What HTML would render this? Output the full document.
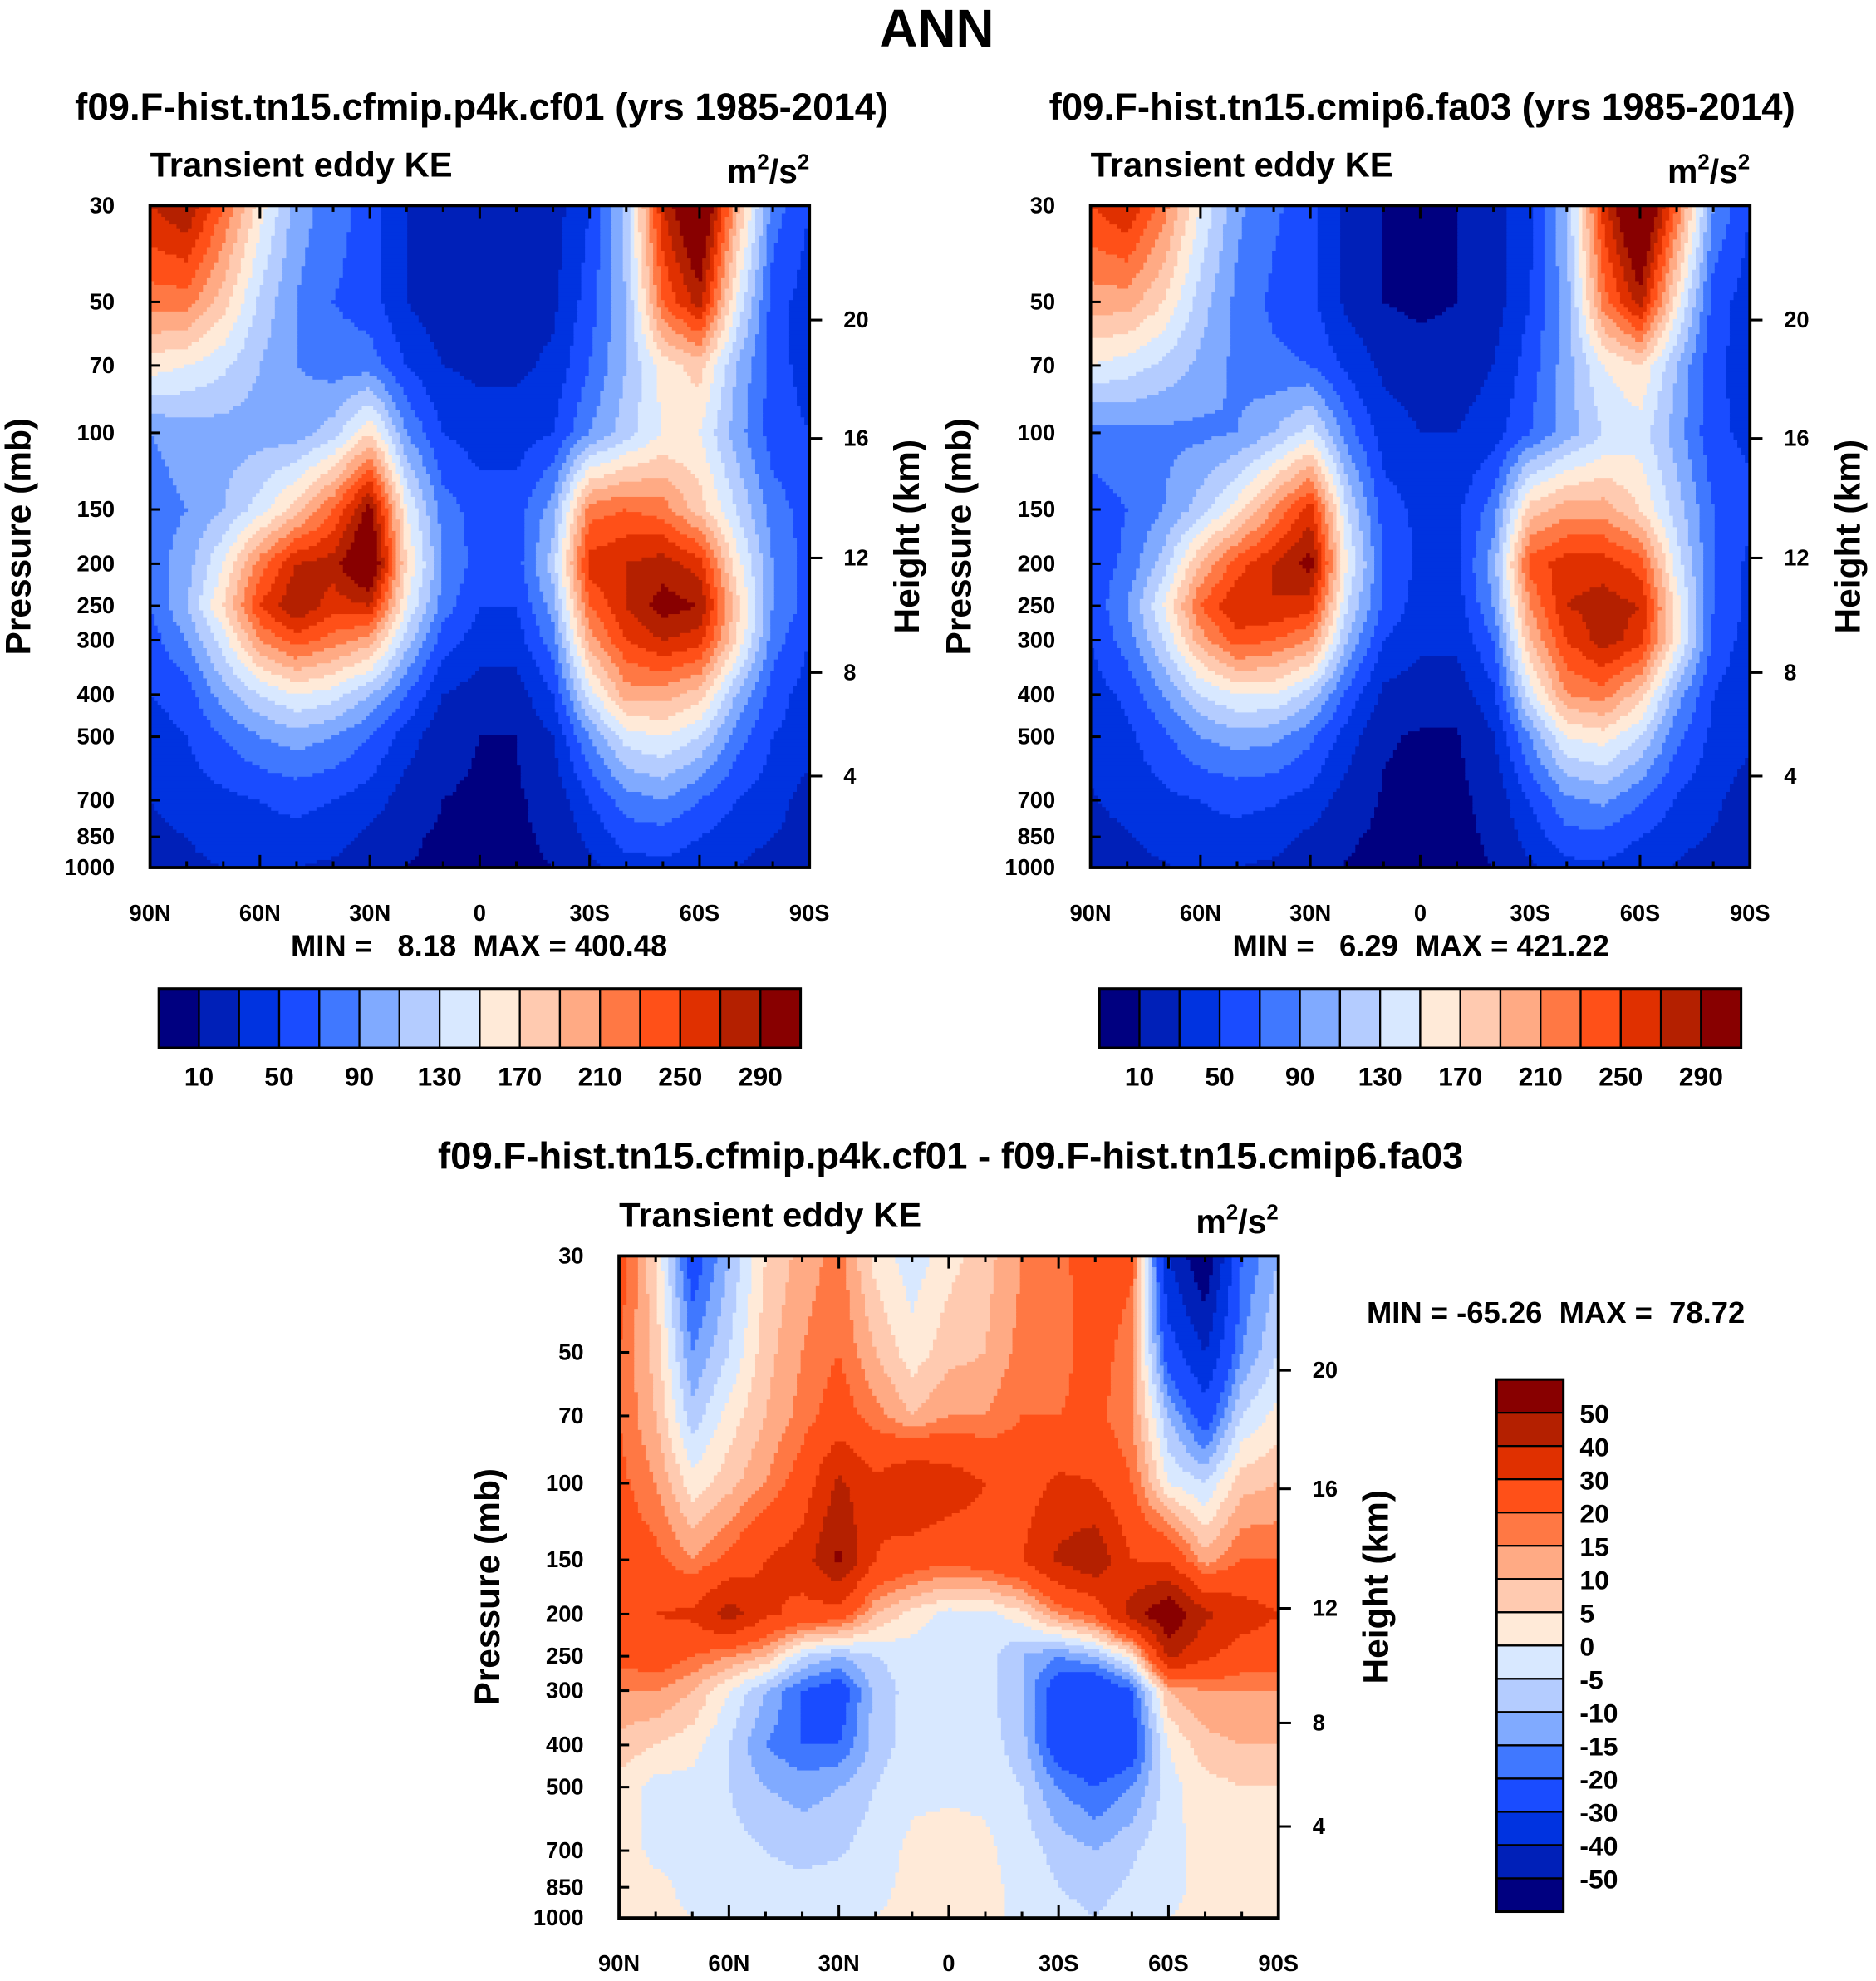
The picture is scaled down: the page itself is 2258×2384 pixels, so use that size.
<!DOCTYPE html>
<html><head><meta charset="utf-8">
<style>
html,body{margin:0;padding:0;background:#fff;}
svg{display:block;}
text{font-family:"Liberation Sans",Arial,sans-serif;font-weight:bold;fill:#000;}
</style></head>
<body>
<svg id="chart" xmlns="http://www.w3.org/2000/svg" width="2258" height="2384" viewBox="0 0 1488 1571">
<rect width="1488" height="1571" fill="#fff"/>
</svg>
<script>
const lats = [90,80,70,60,50,40,30,20,10,0,-10,-20,-30,-40,-50,-60,-70,-80,-90];
const plevs = [30,50,70,100,150,200,250,300,400,500,700,850,1000];
const colors = ["#000080","#0020b8","#0033e0","#1a4cff","#4078ff","#80aaff","#b4ccff","#d8e8ff","#ffead8","#ffcab0","#ffaa84","#ff7844","#ff5018","#e03000","#b42000","#880000"];
const levelsTop = [10,30,50,70,90,110,130,150,170,190,210,230,250,270,290];
const levelsDiff = [-50,-40,-30,-20,-15,-10,-5,0,5,10,15,20,30,40,50];
const topTickLabels = ["10","50","90","130","170","210","250","290"];
const diffTickLabels = ["50","40","30","20","15","10","5","0","-5","-10","-15","-20","-30","-40","-50"];
const pTicks = [30,50,70,100,150,200,250,300,400,500,700,850,1000];
const latTicks = [90,60,30,0,-30,-60,-90];
const latTickLabels = ["90N","60N","30N","0","30S","60S","90S"];
const hTicks = [4,8,12,16,20];
const hTickPressure = [616,356,194,103,55];
const dataCf01 = [
[270,290,230,160,100,80,60,30,15,15,15,20,50,120,270,340,200,80,50],
[220,220,180,125,90,70,60,30,15,15,15,25,60,110,230,280,150,60,40],
[160,150,135,110,90,80,80,50,30,25,25,35,70,110,160,180,110,60,40],
[90,100,100,100,100,120,170,90,50,40,40,50,90,120,150,150,100,60,50],
[80,90,110,140,180,230,300,150,80,60,60,100,220,230,220,180,130,80,60],
[80,100,150,220,270,280,330,170,90,60,60,120,260,270,280,260,160,90,60],
[70,110,170,250,290,260,270,150,80,50,50,100,230,270,300,290,180,90,60],
[60,90,140,210,240,220,200,120,60,40,40,80,200,250,270,260,170,80,50],
[50,60,100,130,150,140,110,70,30,20,20,50,140,200,200,180,110,60,40],
[40,50,70,90,100,90,70,40,15,10,10,30,90,140,150,130,80,50,40],
[30,40,45,50,55,50,40,20,10,8,8,15,50,80,90,70,50,40,20],
[25,30,40,45,45,40,25,12,8,8,8,12,35,60,60,50,40,30,20],
[20,25,30,35,30,25,15,10,8,8,8,10,25,40,45,40,30,20,15]];
const dataFa03 = [
[250,270,220,150,95,75,55,25,10,5,10,20,45,110,260,350,230,90,50],
[200,200,170,120,85,65,55,25,10,5,10,20,50,100,220,280,160,60,40],
[150,140,125,105,85,75,70,45,25,20,20,30,60,100,150,170,110,55,40],
[80,85,85,85,90,110,140,80,40,30,30,40,70,100,130,140,100,55,45],
[60,70,90,120,160,210,260,130,60,45,45,80,180,200,200,170,120,70,55],
[55,75,120,190,240,270,300,150,70,45,45,100,240,260,260,240,140,70,45],
[55,90,150,230,270,270,260,130,65,40,40,90,210,270,280,270,160,70,45],
[50,80,130,200,240,230,210,110,50,35,35,70,190,250,280,260,160,65,40],
[40,55,90,130,150,150,120,65,25,18,18,45,140,210,220,180,100,50,35],
[35,45,65,90,100,95,75,40,12,8,8,28,90,150,160,130,75,45,35],
[28,38,45,50,55,52,42,20,8,6,6,15,52,85,95,72,48,35,18],
[22,28,38,45,45,40,25,12,7,6,7,12,38,65,62,50,38,28,18],
[18,23,28,35,30,25,15,9,7,6,7,10,27,43,46,40,28,18,14]];
const dataDiff = [
[25,5,-25,-10,5,12,17,3,-3,3,8,15,15,30,22,-40,-60,-20,-10],
[20,8,-15,-5,8,15,20,10,2,8,10,17,17,25,15,-25,-40,-15,-5],
[20,10,-8,2,10,17,24,17,10,15,15,20,20,22,15,-10,-25,-5,2],
[22,15,2,8,15,24,42,32,40,36,30,25,32,30,20,0,-5,8,10],
[25,22,15,22,30,35,52,30,25,22,25,30,42,48,30,28,12,20,20],
[25,30,32,45,32,27,25,10,3,-2,-2,3,15,22,45,60,42,35,30],
[22,25,20,15,10,-5,-10,-5,-3,-3,-3,-10,-15,-10,2,42,32,25,25],
[15,15,10,0,-10,-20,-25,-8,-3,-3,-3,-10,-25,-30,-20,10,15,15,15],
[8,5,2,-5,-15,-20,-20,-8,-2,-2,-2,-8,-25,-30,-25,0,8,10,10],
[3,-2,-2,-5,-10,-12,-10,-5,-1,-1,-1,-5,-15,-20,-15,-2,3,5,5],
[2,-1,-1,-3,-5,-7,-6,-2,1,2,1,-2,-7,-10,-6,-1,1,2,2],
[2,1,-1,-2,-3,-3,-2,-1,1,2,1,-1,-5,-7,-4,-1,1,2,1],
[2,1,0,-1,-1,-1,-1,0,1,2,1,-1,-3,-5,-2,0,1,1,1]];

const NS="http://www.w3.org/2000/svg";
const svg=document.getElementById('chart');
function mk(tag,attrs,parent){const e=document.createElementNS(NS,tag);for(const k in attrs)e.setAttribute(k,attrs[k]);(parent||svg).appendChild(e);return e;}
function txt(s,x,y,size,anchor,parent,name){const t=mk('text',{x:x,y:y,'font-size':size,'text-anchor':anchor||'middle'},parent);t.textContent=s;


t.style.whiteSpace='pre';
return t;}
const W=523,H=525,L30=Math.log10(30),L1000=3;
function yOf(p,y0){return y0+(Math.log10(p)-L30)/(L1000-L30)*H;}
function xOf(lat,x0){return x0+(90-lat)/180*W;}
function sample(data,lat,lp){
  let fi=(90-lat)/10; fi=Math.max(0,Math.min(17.9999,fi));
  const i=Math.floor(fi),fx=fi-i;
  const lps=plevs.map(p=>Math.log10(p));
  let j=0; while(j<lps.length-2 && lp>lps[j+1]) j++;
  let fy=(lp-lps[j])/(lps[j+1]-lps[j]); fy=Math.max(0,Math.min(1,fy));
  const a=data[j][i],b=data[j][i+1],c=data[j+1][i],d=data[j+1][i+1];
  return (a*(1-fx)+b*fx)*(1-fy)+(c*(1-fx)+d*fx)*fy;
}
function cls(v,levels){let k=0;while(k<levels.length&&v>=levels[k])k++;return k;}
function panel(x0,y0,data,levels,name){
  const g=mk('g',{});
  
  
  const cs=3;
  for(let py=0;py<H;py+=cs){
    const lp=L30+(py+cs/2)/H*(L1000-L30);
    const hh=Math.min(cs,H-py)+0.6;
    let runStart=0,runC=-1;
    const flush=(end)=>{if(runC>=0){const r=mk('rect',{x:x0+runStart,y:y0+py,width:end-runStart+0.6,height:hh,fill:colors[runC]},g);
          
          }};
    for(let px=0;px<W;px+=cs){
      const lat=90-(px+cs/2)/W*180;
      const c=cls(sample(data,lat,lp),levels);
      if(c!==runC){flush(px);runStart=px;runC=c;}
    }
    flush(W);
  }
  mk('rect',{x:x0,y:y0,width:W,height:H,fill:'none',stroke:'#000','stroke-width':2.5});
  for(let lat=90;lat>=-90;lat-=10){
    const x=xOf(lat,x0),major=lat%30===0,len=major?10:5;
    mk('line',{x1:x,y1:y0+H,x2:x,y2:y0+H-len,stroke:'#000','stroke-width':2});
    mk('line',{x1:x,y1:y0,x2:x,y2:y0+len,stroke:'#000','stroke-width':2});
  }
  latTicks.forEach((lat,i)=>txt(latTickLabels[i],xOf(lat,x0),y0+H+42,18,'middle',null,'x-tick-label'));
  pTicks.forEach(p=>{const y=yOf(p,y0);mk('line',{x1:x0,y1:y,x2:x0+8,y2:y,stroke:'#000','stroke-width':2});
    txt(String(p),x0-28,y+6,18,'end',null,'y-tick-label');});
  hTicks.forEach((h,i)=>{const y=yOf(hTickPressure[i],y0);
    mk('line',{x1:x0+W,y1:y,x2:x0+W+10,y2:y,stroke:'#000','stroke-width':2});
    txt(String(h),x0+W+27,y+6,18,'start',null,'height-tick-label');});
  txt('Pressure (mb)',0,0,28,'middle',null,'y-axis-title').setAttribute('transform',`translate(${x0-95},${y0+H/2}) rotate(-90)`);
  txt('Height (km)',0,0,28,'middle',null,'right-axis-title').setAttribute('transform',`translate(${x0+W+87},${y0+H/2}) rotate(-90)`);
  txt('Transient eddy KE',x0,y0-23,27.5,'start',null,'variable-label');
  const u=txt('',x0+W,y0-18,27,'end',null,'units-label');
  u.innerHTML='m<tspan dy="-11" font-size="17">2</tspan><tspan dy="11">/s</tspan><tspan dy="-11" font-size="17">2</tspan>';
}
function hbar(x0,y0){
  const w=509/16;
  colors.forEach((c,i)=>{const r=mk('rect',{x:x0+i*w,y:y0,width:w,height:47,fill:c,stroke:'#000','stroke-width':1.5});
    
    });
  mk('rect',{x:x0,y:y0,width:509,height:47,fill:'none',stroke:'#000','stroke-width':2});
  topTickLabels.forEach((s,i)=>txt(s,x0+(1+2*i)*w,y0+77,21,'middle',null,'colorbar-label'));
}
function vbar(x0,y0){
  const h=422/16;
  colors.slice().reverse().forEach((c,i)=>{const r=mk('rect',{x:x0,y:y0+i*h,width:53,height:h,fill:c,stroke:'#000','stroke-width':1.5});
    
    });
  mk('rect',{x:x0,y:y0,width:53,height:422,fill:'none',stroke:'#000','stroke-width':2});
  diffTickLabels.forEach((s,i)=>txt(s,x0+66,y0+(i+1)*h+8,21,'start',null,'colorbar-label'));
}
txt('ANN',743,37,42,'middle',null,'main-title');
txt('f09.F-hist.tn15.cfmip.p4k.cf01 (yrs 1985-2014)',382,95,30,'middle',null,'left-panel-title');
txt('f09.F-hist.tn15.cmip6.fa03 (yrs 1985-2014)',1128,95,30,'middle',null,'right-panel-title');
txt('f09.F-hist.tn15.cfmip.p4k.cf01 - f09.F-hist.tn15.cmip6.fa03',754,927,30,'middle',null,'diff-panel-title');
panel(119,163,dataCf01,levelsTop,'left-contour-plot');
panel(865,163,dataFa03,levelsTop,'right-contour-plot');
panel(491,996,dataDiff,levelsDiff,'diff-contour-plot');
txt('MIN =   8.18  MAX = 400.48',380,758,24,'middle',null,'left-min-max');
txt('MIN =   6.29  MAX = 421.22',1127,758,24,'middle',null,'right-min-max');
txt('MIN = -65.26  MAX =  78.72',1084,1049,24,'start',null,'diff-min-max');
hbar(126,784);
hbar(872,784);
vbar(1187,1094);
</script>
</body></html>
